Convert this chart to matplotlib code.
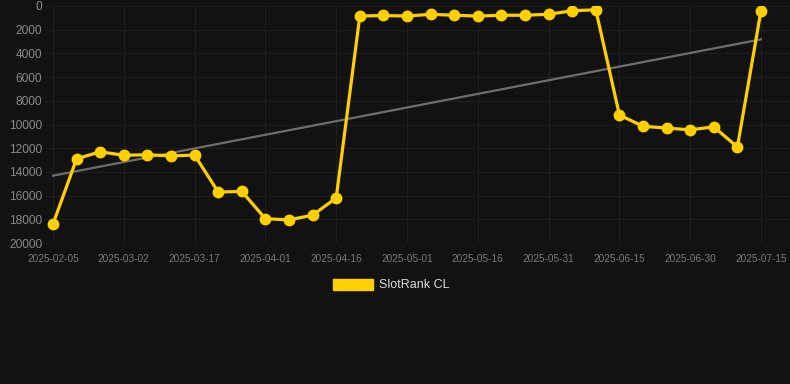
import matplotlib
matplotlib.use('Agg')
import matplotlib.pyplot as plt
import numpy as np

plt.rcParams['font.family'] = ['Liberation Sans', 'DejaVu Sans']

# dados (eixo por categoria, um ponto a cada 5 dias)
rank = [18400, 12900, 12300, 12600, 12550, 12650, 12580, 15700, 15650, 17950,
        18050, 17650, 16200, 850, 800, 850, 700, 780, 850, 780,
        780, 700, 400, 320, 9200, 10150, 10300, 10450, 10200, 11900, 380]
ticks = ['2025-02-05', '2025-03-02', '2025-03-17', '2025-04-01', '2025-04-16',
         '2025-05-01', '2025-05-16', '2025-05-31', '2025-06-15', '2025-06-30',
         '2025-07-15']
yticks = [0, 2000, 4000, 6000, 8000, 10000, 12000, 14000, 16000, 18000, 20000]
legenda = 'SlotRank CL'

fundo = '#121212'
amarelo = '#FFD000'

x = np.arange(len(rank))

fig = plt.figure(figsize=(7.9, 3.84), dpi=100, facecolor=fundo)
W, H = 790, 384
ax = fig.add_axes([45 / W, 1 - 243 / H, (790 - 45) / W, (243 - 6) / H])
ax.set_facecolor(fundo)

# linha de tendencia
coef = np.polyfit(x, rank, 1)
tend = np.poly1d(coef)
ax.plot([x[0], x[-1]], tend([x[0], x[-1]]), color='#6e6e6e', linewidth=1.6, zorder=2)

ax.plot(x, rank, color=amarelo, linewidth=2.3, marker='o', markersize=7.5, zorder=3)

px_passo = (761 - 53) / (len(rank) - 1)
ax.set_xlim(-8 / px_passo, len(rank) - 1 + 29 / px_passo)
ax.set_ylim(20000, 0)

ax.set_xticks(x[::3])
ax.set_xticklabels(ticks)
ax.set_yticks(yticks)
ax.tick_params(axis='x', colors='#7a7a7a', labelsize=7.2, length=0, pad=8)
ax.tick_params(axis='y', colors='#8a8a8a', labelsize=8.6, length=0, pad=2)
ax.grid(True, color='#1f1f1f', linewidth=0.8)
for s in ax.spines.values():
    s.set_visible(False)

# legenda
fig.patches.append(plt.Rectangle((333 / W, 1 - 290 / H), 40 / W, 11 / H,
                                 transform=fig.transFigure, color=amarelo, figure=fig))
fig.text(379 / W, 1 - 285 / H, legenda, color='#dddddd', fontsize=9, va='center', ha='left')

fig.savefig('out.png', dpi=100, facecolor=fundo)
